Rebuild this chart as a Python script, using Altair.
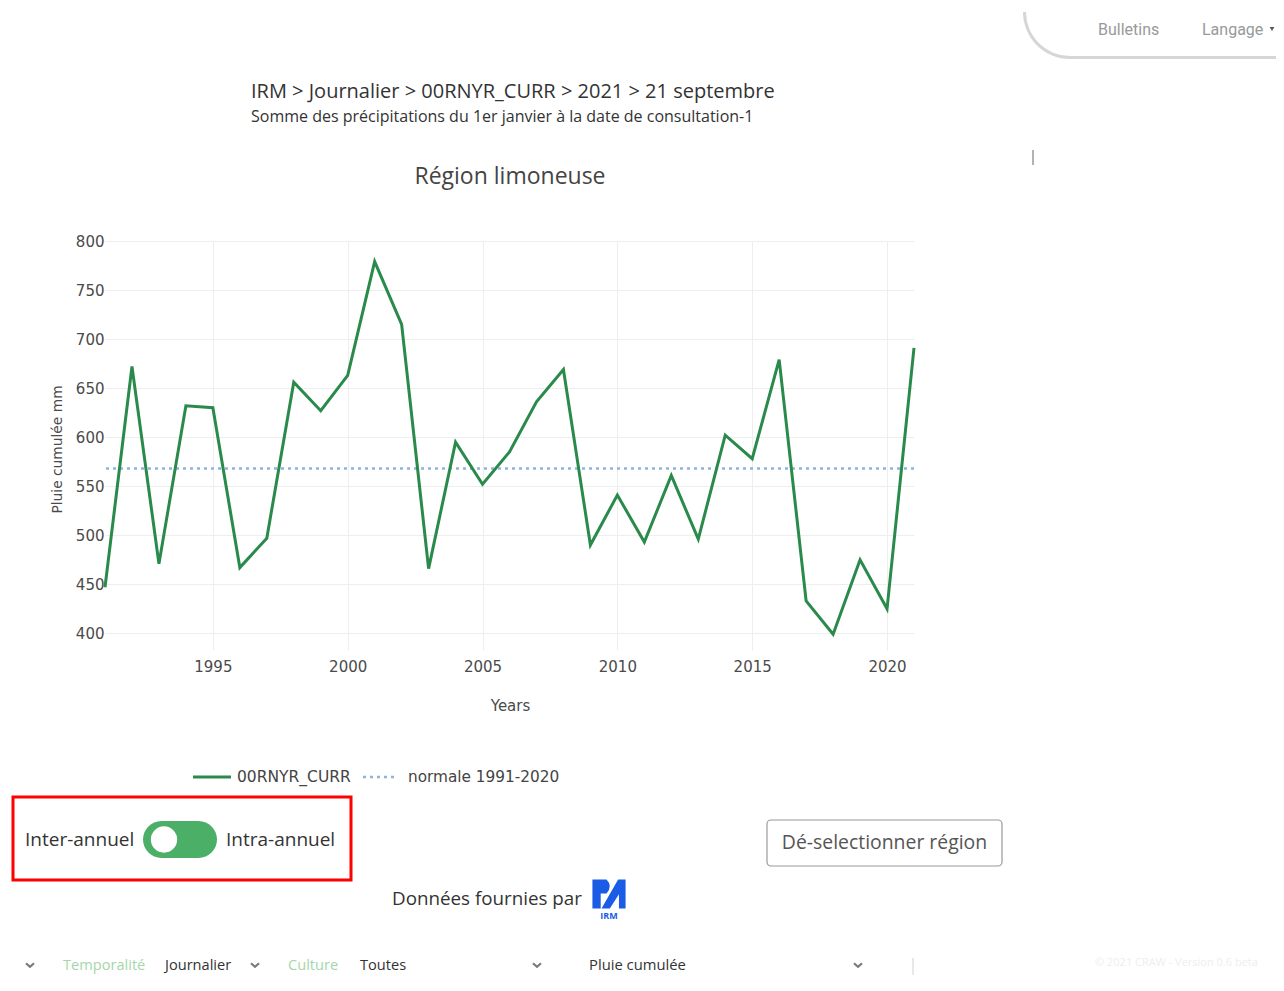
import altair as alt
import pandas as pd

# ---- data ----
years = list(range(1991, 2022))
rain = [447, 672, 471, 632, 630, 467, 497, 656, 627, 663, 779, 715, 466, 595,
        552, 585, 636, 669, 490, 541, 493, 561, 496, 602, 578, 679, 433, 399,
        475, 425, 691]
normal_value = 568
series_name = "00RNYR_CURR"
normal_name = "normale 1991-2020"
x_ticks = [1995, 2000, 2005, 2010, 2015, 2020]
y_ticks = [400, 450, 500, 550, 600, 650, 700, 750, 800]

GREEN = "#2a8a4c"
DOT = "#8fb4da"
AXF = "DejaVu Sans"
PF = "Open Sans"
AXC = "#4a4a4a"

df = pd.DataFrame({"year": years, "rain": rain})
one = pd.DataFrame({"k": [0]})

X = alt.X("year:Q",
          scale=alt.Scale(domain=[years[0], years[-1]], nice=False, zero=False),
          axis=alt.Axis(values=x_ticks, format="d", title="Years",
                        labelFontSize=15, labelColor=AXC, labelFont=AXF,
                        labelPadding=9, titleFont=AXF, titleFontSize=15,
                        titleFontWeight="normal", titleColor=AXC,
                        titleX=405, titleY=55, titleBaseline="middle",
                        titleAlign="center"))
Y = alt.Y("rain:Q",
          scale=alt.Scale(domain=[383, 800], nice=False, zero=False),
          axis=alt.Axis(values=y_ticks, title="Pluie cumulée mm",
                        labelFontSize=15, labelColor=AXC, labelFont=AXF,
                        labelPadding=1, titleFont=AXF, titleFontSize=13.8,
                        titleFontWeight="normal", titleColor=AXC,
                        titleX=-48, titleY=208, titleBaseline="middle",
                        titleAlign="center"))

normal = alt.Chart(pd.DataFrame({"normal": [normal_value]})).mark_rule(
    color=DOT, strokeWidth=2.5, strokeDash=[3, 4]).encode(y=alt.Y("normal:Q"))
line = alt.Chart(df).mark_line(color=GREEN, strokeWidth=3).encode(x=X, y=Y)


def txt(s, x, y, size, color="#444", font=PF, align="left", weight="normal"):
    return alt.Chart(one).mark_text(
        text=s, align=align, baseline="middle", fontSize=size,
        color=color, font=font, fontWeight=weight
    ).encode(x=alt.value(x), y=alt.value(y))


def rect(x1, x2, y1, y2, fill, stroke=None, sw=1, r=0, fo=1):
    kw = dict(fill=fill, cornerRadius=r, fillOpacity=fo)
    if stroke:
        kw.update(stroke=stroke, strokeWidth=sw)
    return alt.Chart(one).mark_rect(**kw).encode(
        x=alt.value(x1), x2=alt.value(x2), y=alt.value(y1), y2=alt.value(y2))


def hrule(x1, x2, y, color, sw, dash=None):
    kw = dict(color=color, strokeWidth=sw)
    if dash:
        kw["strokeDash"] = dash
    return alt.Chart(one).mark_rule(**kw).encode(
        x=alt.value(x1), x2=alt.value(x2), y=alt.value(y))


def vrule(x, y1, y2, color, sw):
    return alt.Chart(one).mark_rule(color=color, strokeWidth=sw).encode(
        x=alt.value(x), y=alt.value(y1), y2=alt.value(y2))


def sym(shape, x, y, size, fill=None, stroke=None, sw=1):
    kw = dict(shape=shape, size=size, filled=fill is not None)
    if fill is not None:
        kw["fill"] = fill
        kw["opacity"] = 1
    if stroke:
        kw.update(stroke=stroke, strokeWidth=sw)
    return alt.Chart(one).mark_point(**kw).encode(x=alt.value(x), y=alt.value(y))


CHEV = "M-1,-0.45 L0,0.45 L1,-0.45"
LOGO = ("M-1,-1 L-0.15,-1 Q0.25,-0.6 -0.15,-0.15 L-0.5,-0.15 L-0.5,0.75 L-1,0.75 Z "
        "M-0.45,0.75 L0.55,-1 L1,-1 L1,0.75 L0.6,0.75 L0.6,-0.1 L0.05,0.75 Z")

deco = [
    # header
    txt("IRM > Journalier > 00RNYR_CURR > 2021 > 21 septembre", 146, -149, 20, "#333"),
    txt("Somme des précipitations du 1er janvier à la date de consultation-1", 146, -124, 16, "#333"),
    txt("Région limoneuse", 405, -64, 23, "#444", align="center"),
    # top-right nav
    alt.Chart(one).mark_arc(theta=3.14159, theta2=4.71239, radius=47, radius2=44,
                            color="#d6d6d6").encode(x=alt.value(965), y=alt.value(-229)),
    hrule(965, 1180, -183.5, "#d6d6d6", 3),
    txt("Bulletins", 993, -211, 16, "#999", font="Roboto"),
    txt("Langage", 1097, -211, 16, "#999", font="Roboto"),
    sym("triangle-down", 1167, -212, 22, fill="#555"),
    vrule(928, -91, -76, "#666", 1),
    # legend
    hrule(88, 126, 536, GREEN, 3),
    txt(series_name, 132, 536, 15.5, "#444", font=AXF),
    hrule(258, 293, 536, DOT, 2.5, [3, 4]),
    txt(normal_name, 303, 536, 15.3, "#444", font=AXF),
    # toggle box
    rect(-92, 246, 556, 639, "white", "#ff0000", 3, 0, 0),
    txt("Inter-annuel", -80, 599, 19, "#333"),
    rect(38, 112, 580, 617, "#4caf68", None, 1, 18.5),
    sym("circle", 59, 598.5, 830, fill="white", stroke="#4caf68", sw=2.5),
    txt("Intra-annuel", 121, 599, 19, "#333"),
    # button
    rect(662, 897, 579, 625, "white", "#999", 1.2, 4),
    txt("Dé-selectionner région", 779.5, 602, 19.4, "#555", align="center"),
    # provider
    txt("Données fournies par", 287, 658, 18.8, "#333"),
    sym(LOGO, 504, 655, 1100, fill="#1a5ce6"),
    txt("IRM", 504, 675, 9, "#1a5ce6", weight="bold", align="center"),
    # bottom nav
    sym(CHEV, -75, 724, 64, stroke="#444", sw=2.2),
    txt("Temporalité", -42, 725, 14.6, "#a5d6aa"),
    txt("Journalier", 60, 725, 14.6, "#333"),
    sym(CHEV, 150, 724, 64, stroke="#444", sw=2.2),
    txt("Culture", 183, 725, 14.6, "#a5d6aa"),
    txt("Toutes", 255, 725, 14.6, "#333"),
    sym(CHEV, 432, 724, 64, stroke="#444", sw=2.2),
    txt("Pluie cumulée", 484, 725, 14.8, "#333"),
    sym(CHEV, 753, 724, 64, stroke="#444", sw=2.2),
    vrule(808, 717, 750, "#e0e0e0", 1.5),
    txt("© 2021 CRAW - Version 0.6 beta", 990, 722, 11, "#eeeeee"),
]

chart = alt.layer(normal, line, *deco).properties(
    width=809, height=409,
    autosize=alt.AutoSizeParams(type="none"),
    padding={"left": 97, "top": 233, "right": 362, "bottom": 325},
).configure_view(stroke=None).configure_axis(
    domain=False, ticks=False, gridColor="#eeeeee", gridWidth=1
)

chart.save("out.html", embed_options={"renderer": "svg", "actions": False})
